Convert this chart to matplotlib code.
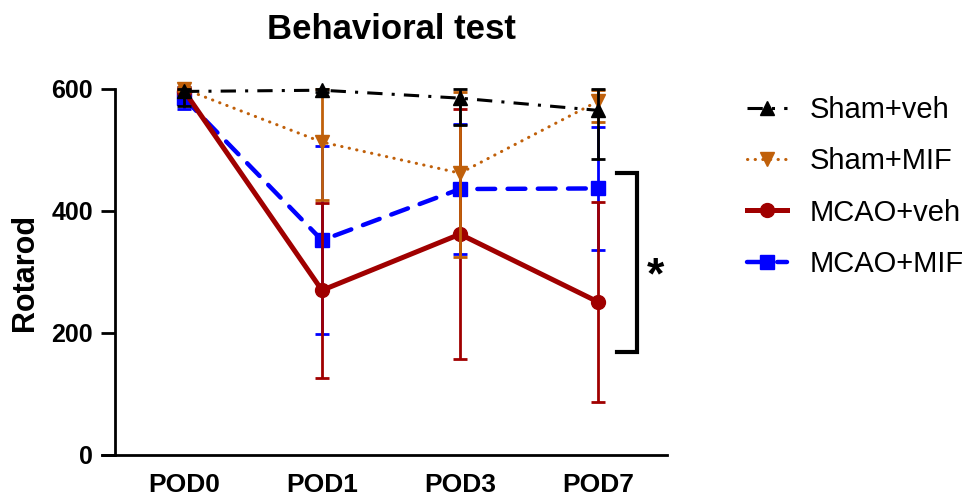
import matplotlib
matplotlib.use("Agg")
import matplotlib.pyplot as plt
from matplotlib.lines import Line2D
import numpy as np

plt.rcParams['font.family'] = ['Liberation Sans', 'DejaVu Sans']

categories = ["POD0", "POD1", "POD3", "POD7"]
series_names = ["Sham+veh", "Sham+MIF", "MCAO+veh", "MCAO+MIF"]

sham_veh = [596, 598, 585, 565]
sham_veh_lo = [24, 3, 44, 80]
sham_veh_hi = [4, 2, 15, 35]

sham_mif = [600, 513, 462, 580]
sham_mif_lo = [3, 95, 137, 34]
sham_mif_hi = [3, 87, 133, 18]

mcao_veh = [597, 270, 362, 251]
mcao_veh_err = [5, 143, 205, 164]

mcao_mif = [585, 352, 436, 437]
mcao_mif_err = [18, 154, 106, 101]

yticks = [0, 200, 400, 600]

fig = plt.figure(figsize=(9.72, 5.0), dpi=100)
ax = fig.add_axes([115/972, 1-455/500, (667-115)/972, (455-89)/500])
x = np.arange(len(categories))

red = '#a00000'
orange = '#c0600a'
blue = '#0000ff'
black = '#000000'

styles = {
    "MCAO+MIF": dict(color=blue, lw=3.2, ls=(0, (4, 2.8)), dash_capstyle='round', marker='s', ms=10),
    "MCAO+veh": dict(color=red, lw=3.6, ls='-', marker='o', ms=10),
    "Sham+MIF": dict(color=orange, lw=2.2, ls=(0, (0.1, 2.4)), dash_capstyle='round', marker='v', ms=10),
    "Sham+veh": dict(color=black, lw=2.2, ls=(0, (5, 3, 1, 3)), marker='^', ms=10),
}
err_kw = dict(elinewidth=2.0, capsize=4.7, capthick=2.0, clip_on=False)

ax.errorbar(x, mcao_mif, yerr=mcao_mif_err, zorder=3, **styles["MCAO+MIF"], **err_kw)
ax.errorbar(x, mcao_veh, yerr=mcao_veh_err, zorder=4, **styles["MCAO+veh"], **err_kw)
ax.errorbar(x, sham_mif, yerr=[sham_mif_lo, sham_mif_hi], zorder=5, **styles["Sham+MIF"], **err_kw)
ax.errorbar(x, sham_veh, yerr=[sham_veh_lo, sham_veh_hi], zorder=6, **styles["Sham+veh"], **err_kw)

ax.set_xlim(-0.5, 3.5)
ax.set_ylim(0, 600)
ax.set_yticks(yticks)
ax.set_yticklabels([str(v) for v in yticks], fontsize=18, fontweight='bold')
ax.set_xticks(x)
ax.set_xticklabels(categories, fontsize=19, fontweight='bold')
ax.tick_params(axis='x', length=0, pad=13)
ax.tick_params(axis='y', length=10, width=2, pad=6)
for s in ['top', 'right']:
    ax.spines[s].set_visible(False)
for s in ['left', 'bottom']:
    ax.spines[s].set_linewidth(2)
ax.spines['bottom'].set_bounds(-0.5 - 13/138, 3.5)

ax.set_ylabel("Rotarod", fontsize=22, fontweight='bold', labelpad=8)
ax.set_title("Behavioral test", fontsize=25, fontweight='bold', pad=36)

# significance bracket
bx = [3.138, 3.283, 3.283, 3.138]
by = [462, 462, 169, 169]
ax.plot(bx, by, color='black', lw=3, clip_on=False, solid_joinstyle='miter')
ax.text(3.42, 292, "*", fontsize=32, fontweight='bold', ha='center', va='center')

handles = [Line2D([], [], **styles[n]) for n in series_names]
fig.legend(handles, series_names,
           loc='upper left', bbox_to_anchor=(747/972, 1-96/500),
           frameon=False, fontsize=21, handlelength=1.37, handletextpad=0.79,
           labelspacing=0.8, borderpad=0, borderaxespad=0)

fig.savefig("out.png", dpi=100)
